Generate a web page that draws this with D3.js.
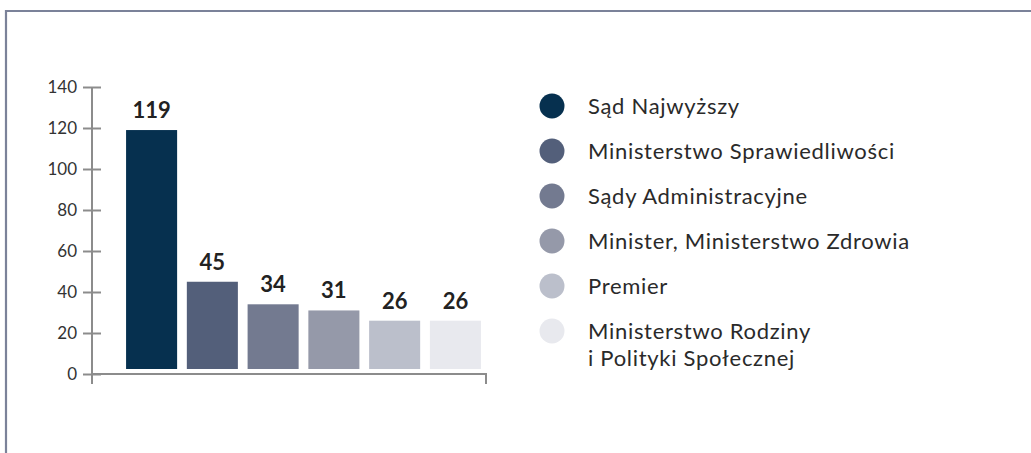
<!DOCTYPE html>
<html lang="pl">
  <head>
    <meta charset="UTF-8" />
    <title>Wykres</title>
    <script src="https://d3js.org/d3.v7.min.js"></script>
    <style>
      body {
        margin: 0;
        background: #fff;
        font-family: Lato, "Open Sans", sans-serif;
      }
    </style>
  </head>
  <body>
    <div id="chart"></div>
    <script>
      // data
      const categories = [
        "Sąd Najwyższy",
        "Ministerstwo Sprawiedliwości",
        "Sądy Administracyjne",
        "Minister, Ministerstwo Zdrowia",
        "Premier",
        "Ministerstwo Rodziny\ni Polityki Społecznej",
      ];
      const values = [119, 45, 34, 31, 26, 26];
      const colors = ["#06304f", "#535f7a", "#737a90", "#9599a9", "#bbbfcb", "#e8e9ee"];
      const yTicks = [0, 20, 40, 60, 80, 100, 120, 140];

      const width = 1031;
      const height = 453;

      const svg = d3
        .select("#chart")
        .append("svg")
        .attr("width", width)
        .attr("height", height);

      // frame (cut off at right and bottom)
      svg
        .append("path")
        .attr("d", `M6,${height} V11 H${width}`)
        .attr("fill", "none")
        .attr("stroke", "#7b8299")
        .attr("stroke-width", 2.2);

      const y = d3.scaleLinear().domain([0, 140]).range([374, 87]);
      const x = d3
        .scaleBand()
        .domain(d3.range(values.length))
        .range([120, 487])
        .paddingInner(0.16)
        .paddingOuter(0.1);

      const axisColor = "#8c8c8c";
      const axisX = 92;

      // y axis
      const yAxis = svg
        .append("g")
        .attr("transform", `translate(${axisX},0)`)
        .call(d3.axisLeft(y).tickValues(yTicks).tickSize(9).tickPadding(7));
      yAxis.select(".domain").remove();
      yAxis.selectAll(".tick line").attr("stroke", axisColor).attr("stroke-width", 2).attr("x2", 9).attr("x1", -9);
      yAxis
        .selectAll(".tick text")
        .attr("fill", "#333")
        .attr("font-family", "Lato, sans-serif")
        .attr("font-size", 17)
        .attr("x", -15);

      // axis lines
      svg
        .append("line")
        .attr("x1", axisX)
        .attr("x2", axisX)
        .attr("y1", y(140))
        .attr("y2", 384)
        .attr("stroke", axisColor)
        .attr("stroke-width", 2);
      svg
        .append("path")
        .attr("d", `M${axisX},${y(0)} H486 V384`)
        .attr("fill", "none")
        .attr("stroke", axisColor)
        .attr("stroke-width", 2);

      // bars
      svg
        .selectAll(".bar")
        .data(values)
        .enter()
        .append("rect")
        .attr("class", "bar")
        .attr("x", (d, i) => x(i))
        .attr("width", x.bandwidth())
        .attr("y", (d) => y(d))
        .attr("height", (d) => y(0) - 5 - y(d))
        .attr("fill", (d, i) => colors[i]);

      svg
        .selectAll(".val")
        .data(values)
        .enter()
        .append("text")
        .attr("class", "val")
        .attr("x", (d, i) => x(i) + x.bandwidth() / 2)
        .attr("y", (d) => y(d) - 12)
        .attr("text-anchor", "middle")
        .attr("font-family", "Lato, sans-serif")
        .attr("font-weight", "bold")
        .attr("font-size", 22)
        .attr("fill", "#222")
        .text((d) => d);

      // legend
      const legend = svg
        .selectAll(".legend-item")
        .data(categories)
        .enter()
        .append("g")
        .attr("class", "legend-item")
        .attr("transform", (d, i) => `translate(552,${106 + i * 45})`);

      legend
        .append("circle")
        .attr("r", 12.5)
        .attr("fill", (d, i) => colors[i]);

      legend
        .append("text")
        .attr("x", 36)
        .attr("y", 7.5)
        .attr("font-family", "Lato, sans-serif")
        .attr("font-size", 22)
        .attr("letter-spacing", 0.7)
        .attr("fill", "#2a2a2a")
        .selectAll("tspan")
        .data((d) => d.split("\n"))
        .enter()
        .append("tspan")
        .attr("x", 36)
        .attr("dy", (d, i) => (i === 0 ? 0 : 27))
        .text((d) => d);
    </script>
  </body>
</html>
